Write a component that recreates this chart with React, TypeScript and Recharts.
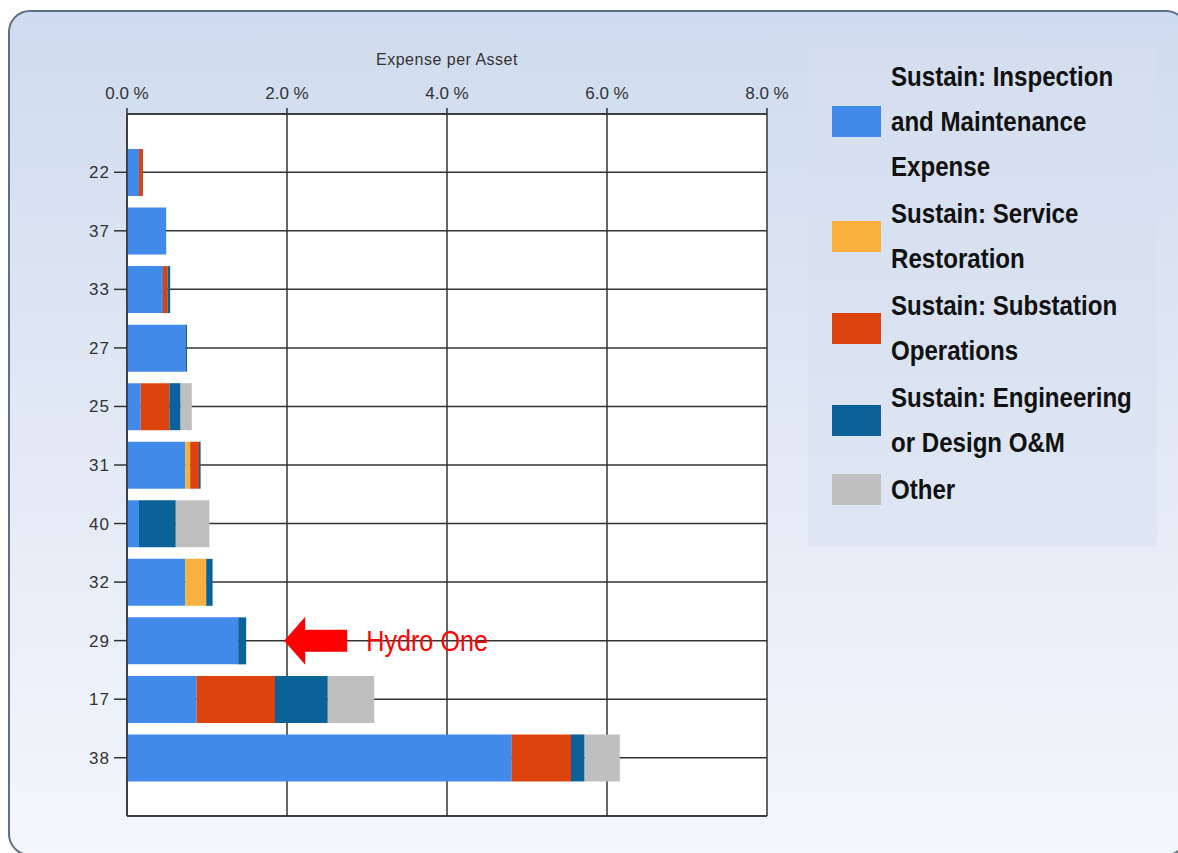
import React from "react";
import { BarChart, Bar, XAxis, YAxis, CartesianGrid, LabelList, Label } from "recharts";

// utility ids, top to bottom
const utilities = ["22", "37", "33", "27", "25", "31", "40", "32", "29", "17", "38"];

// expense per asset, % — one array per cost bucket
const inspection = [0.15, 0.49, 0.45, 0.73, 0.17, 0.73, 0.15, 0.73, 1.39, 0.87, 4.81];
const restoration = [0, 0, 0, 0, 0, 0.06, 0, 0.26, 0, 0, 0];
const substation = [0.05, 0, 0.06, 0, 0.36, 0.11, 0, 0, 0, 0.98, 0.74];
const engineering = [0, 0, 0.03, 0.02, 0.14, 0.02, 0.46, 0.08, 0.1, 0.66, 0.17];
const other = [0, 0, 0, 0, 0.14, 0, 0.42, 0, 0, 0.58, 0.44];

const notes = ["", "", "", "", "", "", "", "", "Hydro One", "", ""];

const xTicks = [0, 2, 4, 6, 8];

const SERIES = [
  { key: "inspection", name: "Sustain: Inspection and Maintenance Expense", color: "#418ae9" },
  { key: "restoration", name: "Sustain: Service Restoration", color: "#f9b03d" },
  { key: "substation", name: "Sustain: Substation Operations", color: "#dd430c" },
  { key: "engineering", name: "Sustain: Engineering or Design O&M", color: "#0a6298" },
  { key: "other", name: "Other", color: "#bfbfbf" },
];

const data = utilities.map((id, i) => ({
  id,
  inspection: inspection[i],
  restoration: restoration[i],
  substation: substation[i],
  engineering: engineering[i],
  other: other[i],
  note: notes[i],
}));

const AXIS_FONT = "'Liberation Sans', Arial, sans-serif";
const INK = "#333";
// no narrow face available, so condensed text is Liberation Sans squeezed horizontally
const SQUEEZE = 0.86;

// red arrow + caption pointing at the end of a flagged bar
const CalloutLabel = (props: any) => {
  const { value } = props;
  if (!value) return null;
  const vb = props.viewBox ?? props;
  const tip = vb.x + vb.width + 38;
  const cy = vb.y + vb.height / 2;
  const pts = [
    [tip, cy],
    [tip + 21, cy - 24],
    [tip + 21, cy - 11],
    [tip + 63, cy - 11],
    [tip + 63, cy + 11],
    [tip + 21, cy + 11],
    [tip + 21, cy + 24],
  ]
    .map((p) => p.join(","))
    .join(" ");
  return (
    <g>
      <polygon points={pts} fill="#ff0000" />
      <text
        transform={`translate(${tip + 82},${cy}) scale(0.84,1)`}
        dominantBaseline="central"
        fontFamily={AXIS_FONT}
        fontSize={30}
        fill="#ff0000"
      >
        {value}
      </text>
    </g>
  );
};

function LegendBox() {
  return (
    <div
      style={{
        position: "absolute",
        left: 808,
        top: 48,
        width: 349,
        height: 499,
        background: "linear-gradient(180deg, #d4deef 0%, #dfe6f3 100%)",
        boxSizing: "border-box",
        paddingTop: 6,
        paddingLeft: 24,
        overflow: "hidden",
      }}
    >
      {SERIES.map((s) => (
        <div key={s.key} style={{ display: "flex", alignItems: "center", marginBottom: 2 }}>
          <div style={{ width: 49, height: 31, background: s.color, flex: "none" }} />
          <div
            style={{
              marginLeft: 10,
              width: 292,
              flex: "none",
              fontFamily: AXIS_FONT,
              fontWeight: 700,
              fontSize: 28,
              lineHeight: "45px",
              color: "#111",
              transform: `scaleX(${SQUEEZE})`,
              transformOrigin: "left center",
            }}
          >
            {s.name}
          </div>
        </div>
      ))}
    </div>
  );
}

export default function App() {
  return (
    <div style={{ position: "fixed", left: 0, top: 0, width: 1178, height: 853, overflow: "hidden", background: "#fff" }}>
      <div
        style={{
          position: "absolute",
          left: 8,
          top: 10,
          width: 1180,
          height: 846,
          border: "2px solid #5f6f87",
          borderRadius: 22,
          boxSizing: "border-box",
          background: "linear-gradient(180deg, #cfdbee 0%, #e2e9f5 50%, #f4f6fb 100%)",
        }}
      />
      <div style={{ position: "absolute", left: 0, top: 0 }}>
        <BarChart
          width={800}
          height={853}
          data={data}
          layout="vertical"
          margin={{ top: 84, right: 33, bottom: 36, left: 80 }}
        >
          <CartesianGrid stroke={INK} strokeWidth={1.5} fill="#fff" />
          <XAxis
            type="number"
            orientation="top"
            domain={[0, 8]}
            ticks={xTicks}
            height={30}
            tickFormatter={(v: number) => `${v.toFixed(1)} %`}
            tickSize={6}
            tickMargin={9}
            axisLine={{ stroke: INK, strokeWidth: 1.5 }}
            tickLine={{ stroke: INK, strokeWidth: 1.5 }}
            tick={{ fontSize: 17, fill: INK, fontFamily: AXIS_FONT }}
          >
            <Label
              value="Expense per Asset"
              position="top"
              offset={19}
              style={{ fontSize: 16, fill: INK, fontFamily: AXIS_FONT, letterSpacing: 0.5 }}
            />
          </XAxis>
          <XAxis
            xAxisId="base"
            type="number"
            orientation="bottom"
            domain={[0, 8]}
            height={1}
            tick={false}
            tickLine={false}
            axisLine={{ stroke: INK, strokeWidth: 1.5 }}
          />
          <YAxis
            type="category"
            dataKey="id"
            width={47}
            padding={{ top: 29, bottom: 29 }}
            tickSize={13}
            tickMargin={4}
            axisLine={{ stroke: INK, strokeWidth: 1.5 }}
            tickLine={{ stroke: INK, strokeWidth: 1.5 }}
            tick={{ fontSize: 17, fill: INK, fontFamily: AXIS_FONT, letterSpacing: 1 }}
          />
          {SERIES.map((s) => (
            <Bar
              key={s.key}
              dataKey={s.key}
              name={s.name}
              stackId="cost"
              fill={s.color}
              barSize={47}
              isAnimationActive={false}
            >
              {s.key === "engineering" && <LabelList dataKey="note" content={CalloutLabel} />}
            </Bar>
          ))}
        </BarChart>
      </div>
      <LegendBox />
    </div>
  );
}
